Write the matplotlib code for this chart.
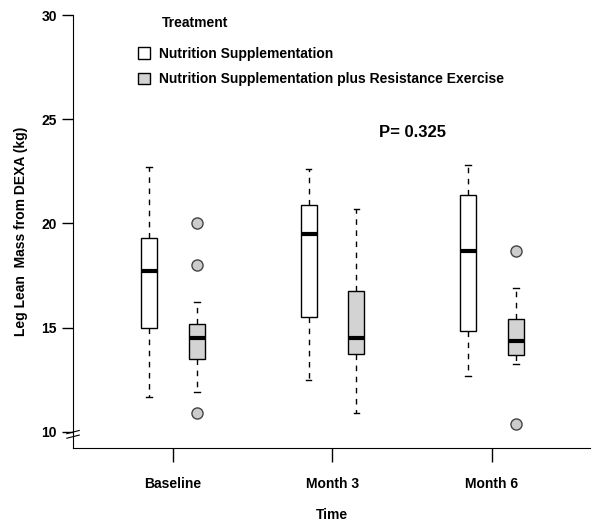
import numpy as np
import matplotlib.pyplot as plt
from matplotlib.patches import Patch

plt.rcParams['font.family'] = ['Liberation Sans', 'DejaVu Sans']
plt.rcParams['font.weight'] = 'bold'

# time points
times = ["Baseline", "Month 3", "Month 6"]
groups = ["Nutrition Supplementation",
          "Nutrition Supplementation plus Resistance Exercise"]

# box stats: whislo, q1, med, q3, whishi
ns_low = [11.7, 12.5, 12.7]
ns_q1 = [15.0, 15.5, 14.85]
ns_med = [17.7, 19.5, 18.7]
ns_q3 = [19.3, 20.9, 21.35]
ns_high = [22.7, 22.6, 22.8]
ns_out = [[], [], []]

ex_low = [11.9, 10.9, 13.25]
ex_q1 = [13.5, 13.75, 13.7]
ex_med = [14.5, 14.5, 14.35]
ex_q3 = [15.2, 16.75, 15.4]
ex_high = [16.25, 20.7, 16.9]
ex_out = [[20.0, 18.0, 10.9], [], [18.7, 10.4]]

p_text = "P= 0.325"


def make_stats(low, q1, med, q3, high, out):
    return [dict(whislo=low[i], q1=q1[i], med=med[i], q3=q3[i],
                 whishi=high[i], fliers=out[i]) for i in range(len(low))]


fig = plt.figure(figsize=(6, 5.29), dpi=100)
ax = fig.add_axes([0.1217, 0.1531, 0.8616, 0.8185])

pos = np.arange(1, len(times) + 1)
common = dict(widths=0.1, capwidths=0.035, patch_artist=True, manage_ticks=False,
              whiskerprops=dict(linestyle=(0, (4, 4)), color='black', lw=1),
              capprops=dict(color='black', lw=1),
              medianprops=dict(color='black', lw=3))

ax.bxp(make_stats(ns_low, ns_q1, ns_med, ns_q3, ns_high, ns_out), positions=pos - 0.15,
       boxprops=dict(facecolor='white', edgecolor='black', lw=1), **common)
ax.bxp(make_stats(ex_low, ex_q1, ex_med, ex_q3, ex_high, ex_out), positions=pos + 0.15,
       boxprops=dict(facecolor='#d3d3d3', edgecolor='black', lw=1),
       flierprops=dict(marker='o', markersize=8, markerfacecolor='#cccccc',
                       markeredgecolor='#444444', markeredgewidth=1), **common)

ax.set_xlim(0.373, 3.615)
ax.set_ylim(9.23, 30)
ax.set_yticks([10, 15, 20, 25, 30])
ax.set_xticks(pos)
ax.set_xticklabels(times, fontsize=10, fontweight='bold')
ax.tick_params(axis='y', labelsize=10, length=8, width=1)
ax.tick_params(axis='x', length=10, width=1, pad=11)
for s in ['top', 'right']:
    ax.spines[s].set_visible(False)
ax.spines['left'].set_bounds(9.23, 30)

ax.set_xlabel("Time", fontsize=10, fontweight='bold', labelpad=12)
ax.set_ylabel("Leg Lean  Mass from DEXA (kg)", fontsize=10, fontweight='bold', labelpad=10)

# axis break mark
for dy in [0.0, 0.22]:
    ax.plot([-0.012, 0.012], [9.7 + dy, 9.85 + dy], transform=ax.get_yaxis_transform(),
            color='black', lw=0.8, clip_on=False)

ax.text(2.5, 24.37, p_text, fontsize=12, fontweight='bold', ha='center', va='center')

ax.text(0.93, 29.6, "Treatment", fontsize=10, fontweight='bold', va='center')
handles = [Patch(facecolor='white', edgecolor='black', lw=1),
           Patch(facecolor='#d3d3d3', edgecolor='black', lw=1)]
ax.legend(handles, groups, loc='upper left', bbox_to_anchor=(0.1015, 0.955), frameon=False,
          prop=dict(size=10, weight='bold'), handlelength=0.9, handleheight=0.9,
          handletextpad=0.6, labelspacing=0.8)

fig.savefig("out.png", dpi=100)
